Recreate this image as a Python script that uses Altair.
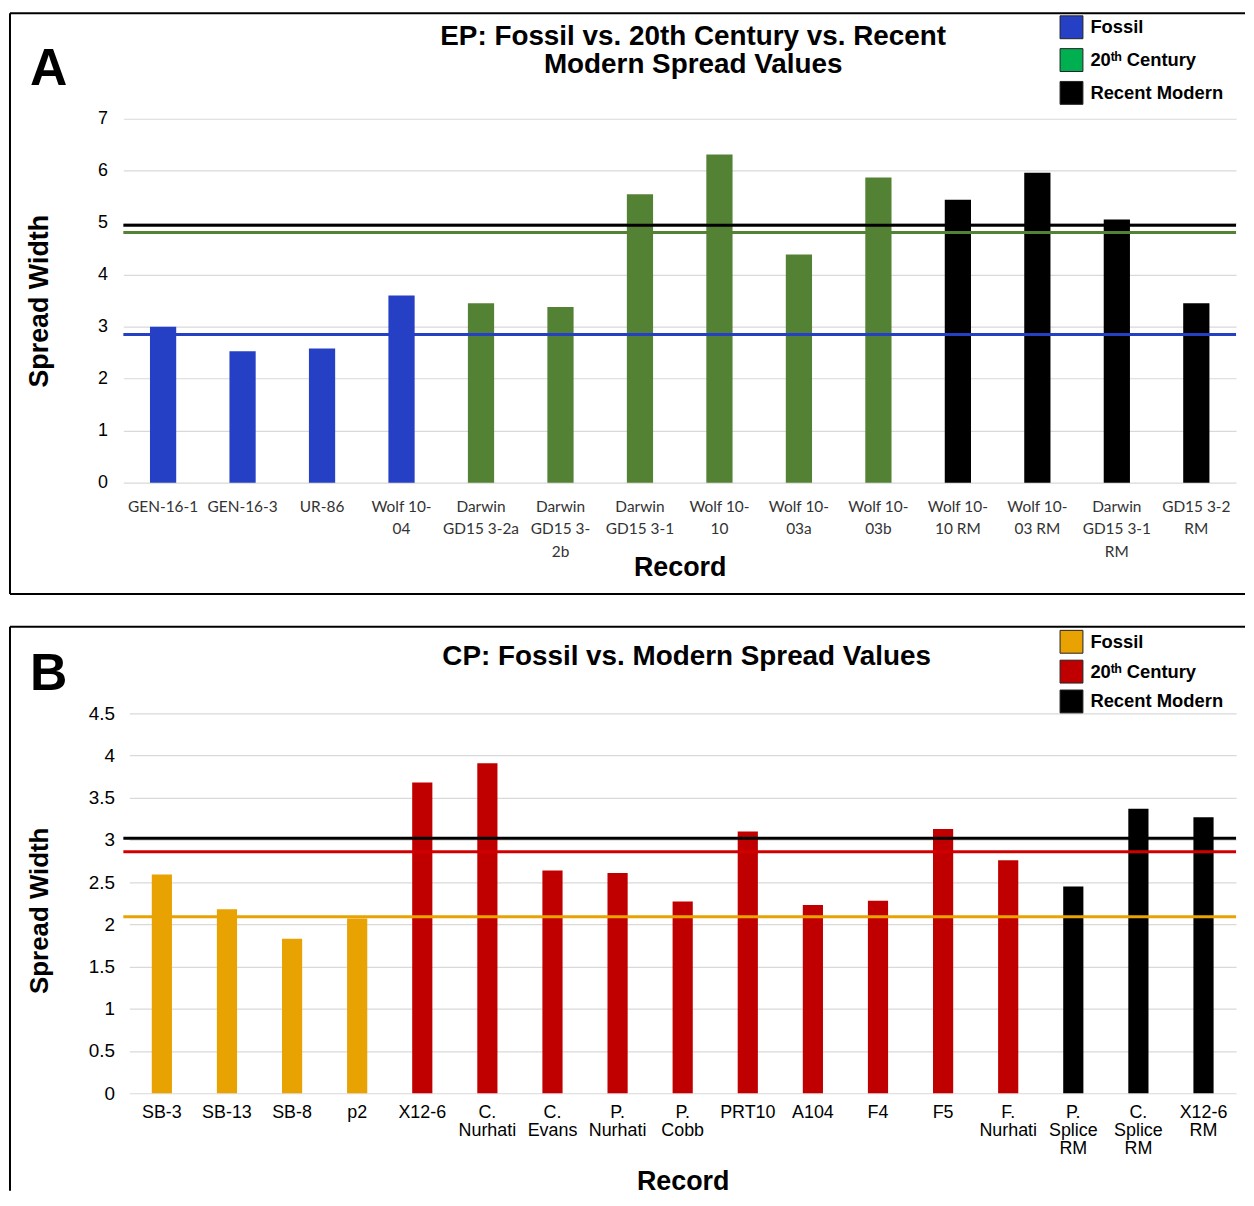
import altair as alt
import pandas as pd

# ---------------- Panel A data ----------------
a_records = ["GEN-16-1", "GEN-16-3", "UR-86", "Wolf 10-|04", "Darwin|GD15 3-2a",
             "Darwin|GD15 3-|2b", "Darwin|GD15 3-1", "Wolf 10-|10", "Wolf 10-|03a",
             "Wolf 10-|03b", "Wolf 10-|10 RM", "Wolf 10-|03 RM", "Darwin|GD15 3-1|RM",
             "GD15 3-2|RM"]
a_values = [3.00, 2.53, 2.58, 3.60, 3.45, 3.38, 5.55, 6.31, 4.39, 5.87, 5.44, 5.96, 5.06, 3.45]
a_groups = ["Fossil"] * 4 + ["20ᵗʰ Century"] * 6 + ["Recent Modern"] * 4
a_means = [2.85, 4.81, 4.95]

# ---------------- Panel B data ----------------
b_records = ["SB-3", "SB-13", "SB-8", "p2", "X12-6", "C.|Nurhati", "C.|Evans", "P.|Nurhati",
             "P.|Cobb", "PRT10", "A104", "F4", "F5", "F.|Nurhati", "P.|Splice|RM",
             "C.|Splice|RM", "X12-6|RM"]
b_values = [2.59, 2.18, 1.83, 2.07, 3.68, 3.91, 2.64, 2.61, 2.27, 3.10, 2.23, 2.28, 3.13,
            2.76, 2.45, 3.37, 3.27]
b_groups = ["Fossil"] * 4 + ["20ᵗʰ Century"] * 10 + ["Recent Modern"] * 3
b_means = [2.09, 2.86, 3.02]

groups = ["Fossil", "20ᵗʰ Century", "Recent Modern"]

a_bar_colors = ["#2540C4", "#548235", "#000000"]
a_line_colors = ["#2540C4", "#548235", "#000000"]
a_legend_colors = ["#2540C4", "#00B050", "#000000"]
b_bar_colors = ["#E8A202", "#C00000", "#000000"]
b_line_colors = ["#E8A202", "#D00000", "#000000"]
b_legend_colors = ["#E8A202", "#C00000", "#000000"]

a_title = ["EP: Fossil vs. 20th Century vs. Recent", "Modern Spread Values"]
b_title = ["CP: Fossil vs. Modern Spread Values"]

HFONT = "Liberation Sans"


def panel(records, values, grps, means, bar_colors, line_colors, legend_colors,
          ymax, yvalues, height, xrange, pin, pout, letter, letter_y, title_lines,
          title_x, title_y, top_y, bottom_y, legend_y, legend_row_pad,
          xlab_font, xlab_size, xlab_color, xlab_lh, xlab_pad, xtitle_y,
          ylab_size, ylab_pad, ytitle_y, ytitle_size):
    width = 1119
    bars_df = pd.DataFrame({"record": records, "value": values, "group": grps})
    means_df = pd.DataFrame({"group": groups, "value": means})
    legend_df = pd.DataFrame({"group": groups})
    one = alt.Data(values=[{}])

    x_enc = alt.X(
        "record:N", sort=records,
        scale=alt.Scale(range=xrange, paddingInner=pin, paddingOuter=pout),
        axis=alt.Axis(
            title="Record", titleFont=HFONT, titleFontSize=27, titleFontWeight="bold",
            titleColor="black", titleY=xtitle_y, titleBaseline="alphabetic",
            labelAngle=0, labelFont=xlab_font, labelFontSize=xlab_size,
            labelColor=xlab_color, labelLineHeight=xlab_lh, labelPadding=xlab_pad,
            labelExpr="split(datum.label, '|')", labelLimit=300,
            ticks=False, domain=False, grid=False))
    y_enc = alt.Y(
        "value:Q",
        scale=alt.Scale(domain=[0, ymax], nice=False),
        axis=alt.Axis(
            values=yvalues, format="~g", title="Spread Width", titleFont=HFONT,
            titleFontSize=ytitle_size, titleFontWeight="bold", titleColor="black",
            titleAngle=270, titleX=-84, titleY=ytitle_y, titleAlign="center",
            titleBaseline="middle", labelFont=HFONT, labelFontSize=ylab_size,
            labelColor="black", labelPadding=ylab_pad, ticks=False, domain=False,
            grid=True, gridColor="#d9d9d9", gridWidth=1.2))

    bars = alt.Chart(bars_df).mark_bar().encode(
        x=x_enc, y=y_enc,
        color=alt.Color("group:N", scale=alt.Scale(domain=groups, range=bar_colors),
                        legend=None))

    rules = alt.Chart(means_df).mark_rule(strokeWidth=3).encode(
        y=y_enc,
        stroke=alt.Stroke("group:N", scale=alt.Scale(domain=groups, range=line_colors),
                          legend=None))

    legend_layer = alt.Chart(legend_df).mark_square(opacity=0).encode(
        x=alt.value(0), y=alt.value(0),
        fill=alt.Fill("group:N", scale=alt.Scale(domain=groups, range=legend_colors),
                      legend=alt.Legend(
                          orient="none", legendX=941.5, legendY=legend_y, title=None,
                          symbolType="square", symbolSize=529, symbolStrokeColor="#222222",
                          symbolStrokeWidth=1, symbolOpacity=1, labelFont=HFONT,
                          labelFontSize=18.5, labelFontWeight="bold", labelColor="black",
                          labelOpacity=1, labelOffset=7, rowPadding=legend_row_pad,
                          padding=0)))

    border_top = alt.Chart(one).mark_rule(color="black", strokeWidth=2).encode(
        x=alt.value(-114), x2=alt.value(1128), y=alt.value(top_y))
    border_left = alt.Chart(one).mark_rule(color="black", strokeWidth=2).encode(
        x=alt.value(-114), y=alt.value(top_y), y2=alt.value(bottom_y))
    layers = [bars, rules, legend_layer, border_top, border_left]
    if letter == "A":
        border_bottom = alt.Chart(one).mark_rule(color="black", strokeWidth=2).encode(
            x=alt.value(-114), x2=alt.value(1128), y=alt.value(bottom_y))
        layers.append(border_bottom)

    letter_txt = alt.Chart(one).mark_text(
        font=HFONT, fontSize=52, fontWeight="bold", align="left",
        baseline="alphabetic", color="black").encode(
        x=alt.value(-94), y=alt.value(letter_y), text=alt.value(letter))
    layers.append(letter_txt)
    for i, line in enumerate(title_lines):
        layers.append(alt.Chart(one).mark_text(
            font=HFONT, fontSize=28, fontWeight="bold", align="center",
            baseline="alphabetic", color="black").encode(
            x=alt.value(title_x), y=alt.value(title_y + 28 * i), text=alt.value(line)))

    return alt.layer(*layers).properties(width=width, height=height).resolve_scale(
        color="independent", stroke="independent", fill="independent")


panel_a = panel(a_records, a_values, a_groups, a_means, a_bar_colors, a_line_colors,
                a_legend_colors, 7, list(range(8)), 366, [0, 1119], 0.67, 0.335,
                "A", -34, a_title, 573, -74, -106, 478, -104, 5,
                "Lato", 15.5, "#333333", 22.5, 17, 93, 18, 16, 183, 27)

panel_b = panel(b_records, b_values, b_groups, b_means, b_bar_colors, b_line_colors,
                b_legend_colors, 4.5, [i * 0.5 for i in range(10)], 382, [6, 1119],
                0.69, 0.345, "B", -24, b_title, 566.5, -49, -87, 480, -84, 2,
                HFONT, 18, "black", 18.5, 10, 97, 19, 9, 198, 26)

chart = alt.vconcat(panel_a, panel_b, spacing=31).properties(
    padding={"left": 1, "top": 1, "right": 0, "bottom": 0}
).configure_view(stroke=None).resolve_scale(
    x="independent", y="independent", color="independent", stroke="independent",
    fill="independent"
).resolve_legend(fill="independent")

chart.save("out.html", embed_options={"renderer": "svg", "actions": False})
